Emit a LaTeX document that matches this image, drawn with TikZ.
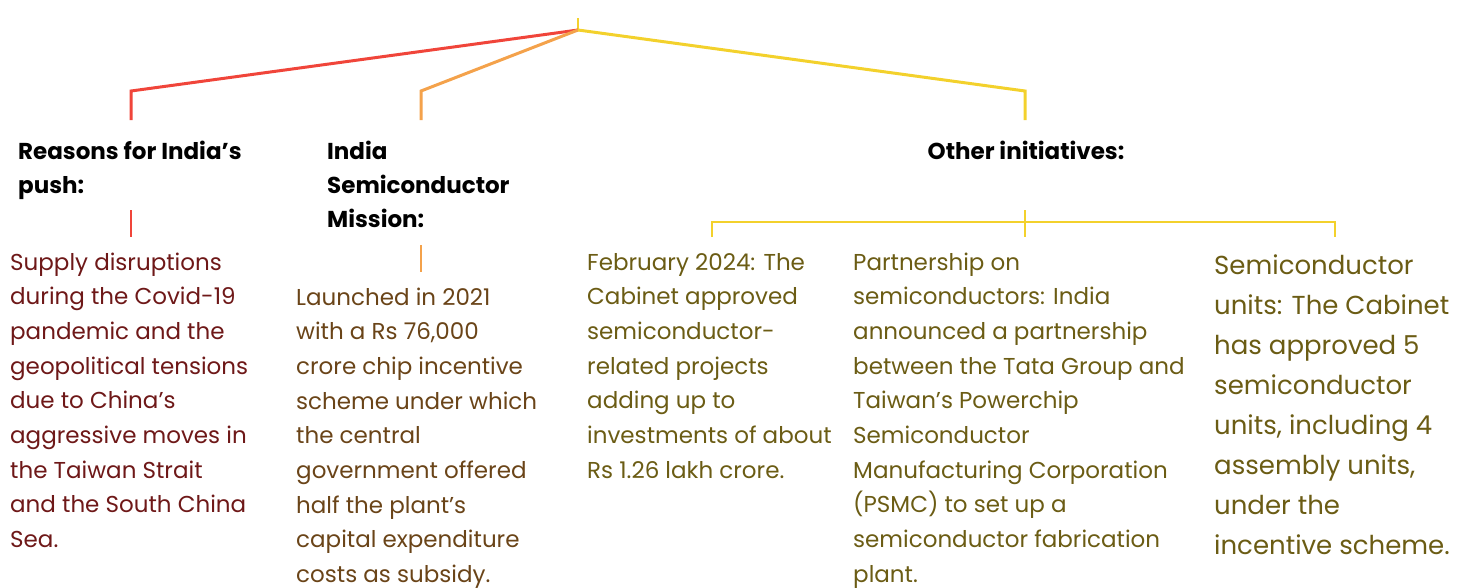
\documentclass[tikz,border=0pt]{standalone}
\usepackage{fontspec}
\setmainfont{Poppins}
\definecolor{lred}{HTML}{F0453A}
\definecolor{lorange}{HTML}{F4A24B}
\definecolor{lyellow}{HTML}{F3D12C}
\definecolor{tmaroon}{HTML}{6E1818}
\definecolor{tbrown}{HTML}{6A4418}
\definecolor{tolive}{HTML}{6B5C14}
% anchor = baseline of the LAST line of each multi-line node
\tikzset{
  head/.style={anchor=base west, inner sep=0pt, align=left, text=black,
    font=\fontsize{23}{34}\selectfont\bfseries},
  body/.style={anchor=base west, inner sep=0pt, align=left,
    font=\fontsize{23}{34.7}\selectfont},
  bigbody/.style={anchor=base west, inner sep=0pt, align=left,
    font=\fontsize{26}{40}\selectfont, text=tolive},
  thick line/.style={line width=3pt},
  thin line/.style={line width=1.8pt},
}
\begin{document}
\begin{tikzpicture}[x=1pt,y=-1pt]
\useasboundingbox (0,0) rectangle (1470,587);
% root junction
\coordinate (root) at (578,30);
\coordinate (top) at (578,18);
\coordinate (rc) at (131,91);
\coordinate (oc) at (421,91);
\coordinate (yc) at (1025,91);
\coordinate (rend) at (131,120);
\coordinate (oend) at (421,120);
\coordinate (yend) at (1025,120);
\draw[thin line, lyellow] (top) -- (root);
\draw[thick line, lred, line join=miter] (root) -- (rc) -- (rend);
\draw[thick line, lorange, line join=miter] (root) -- (oc) -- (oend);
\draw[thick line, lyellow, line join=miter] (root) -- (yc) -- (yend);

% headings
\node[head] (h1) at (18,193) {Reasons for India’s\\push:};
\node[head] (h2) at (327,227) {India\\Semiconductor\\Mission:};
\node[head, anchor=base] (h3) at (1026,159) {Other initiatives:};

% stubs
\coordinate (r1) at (131,210); \coordinate (r2) at (131,237);
\coordinate (o1) at (421,245); \coordinate (o2) at (421,272);
\draw[thin line, lred] (r1) -- (r2);
\draw[thin line, lorange] (o1) -- (o2);
\coordinate (y1) at (1025,210); \coordinate (y2) at (1025,237);
\coordinate (ya) at (712,222); \coordinate (yb) at (1335,222);
\coordinate (ya2) at (712,237); \coordinate (yb2) at (1335,237);
\draw[thin line, lyellow] (y1) -- (y2);
\draw[thin line, lyellow, line join=miter] (ya2) -- (ya) -- (yb) -- (yb2);

% bodies
\node[body, text=tmaroon] (b1) at (10,547.6) {Supply disruptions\\during the Covid-19\\pandemic and the\\geopolitical tensions\\due to China’s\\aggressive moves in\\the Taiwan Strait\\and the South China\\Sea.};
\node[body, text=tbrown] (b2) at (296,582.6) {Launched in 2021\\with a Rs 76,000\\crore chip incentive\\scheme under which\\the central\\government offered\\half the plant’s\\capital expenditure\\costs as subsidy.};
\node[body, text=tolive] (b3) at (587,478.2) {February 2024: The\\Cabinet approved\\semiconductor-\\related projects\\adding up to\\investments of about\\Rs 1.26 lakh crore.};
\node[body, text=tolive] (b4) at (853,582.3) {Partnership on\\semiconductors: India\\announced a partnership\\between the Tata Group and\\Taiwan’s Powerchip\\Semiconductor\\Manufacturing Corporation\\(PSMC) to set up a\\semiconductor fabrication\\plant.};
\node[bigbody] (b5) at (1214,554) {Semiconductor\\units: The Cabinet\\has approved 5\\semiconductor\\units, including 4\\assembly units,\\under the\\incentive scheme.};
\end{tikzpicture}
\end{document}
